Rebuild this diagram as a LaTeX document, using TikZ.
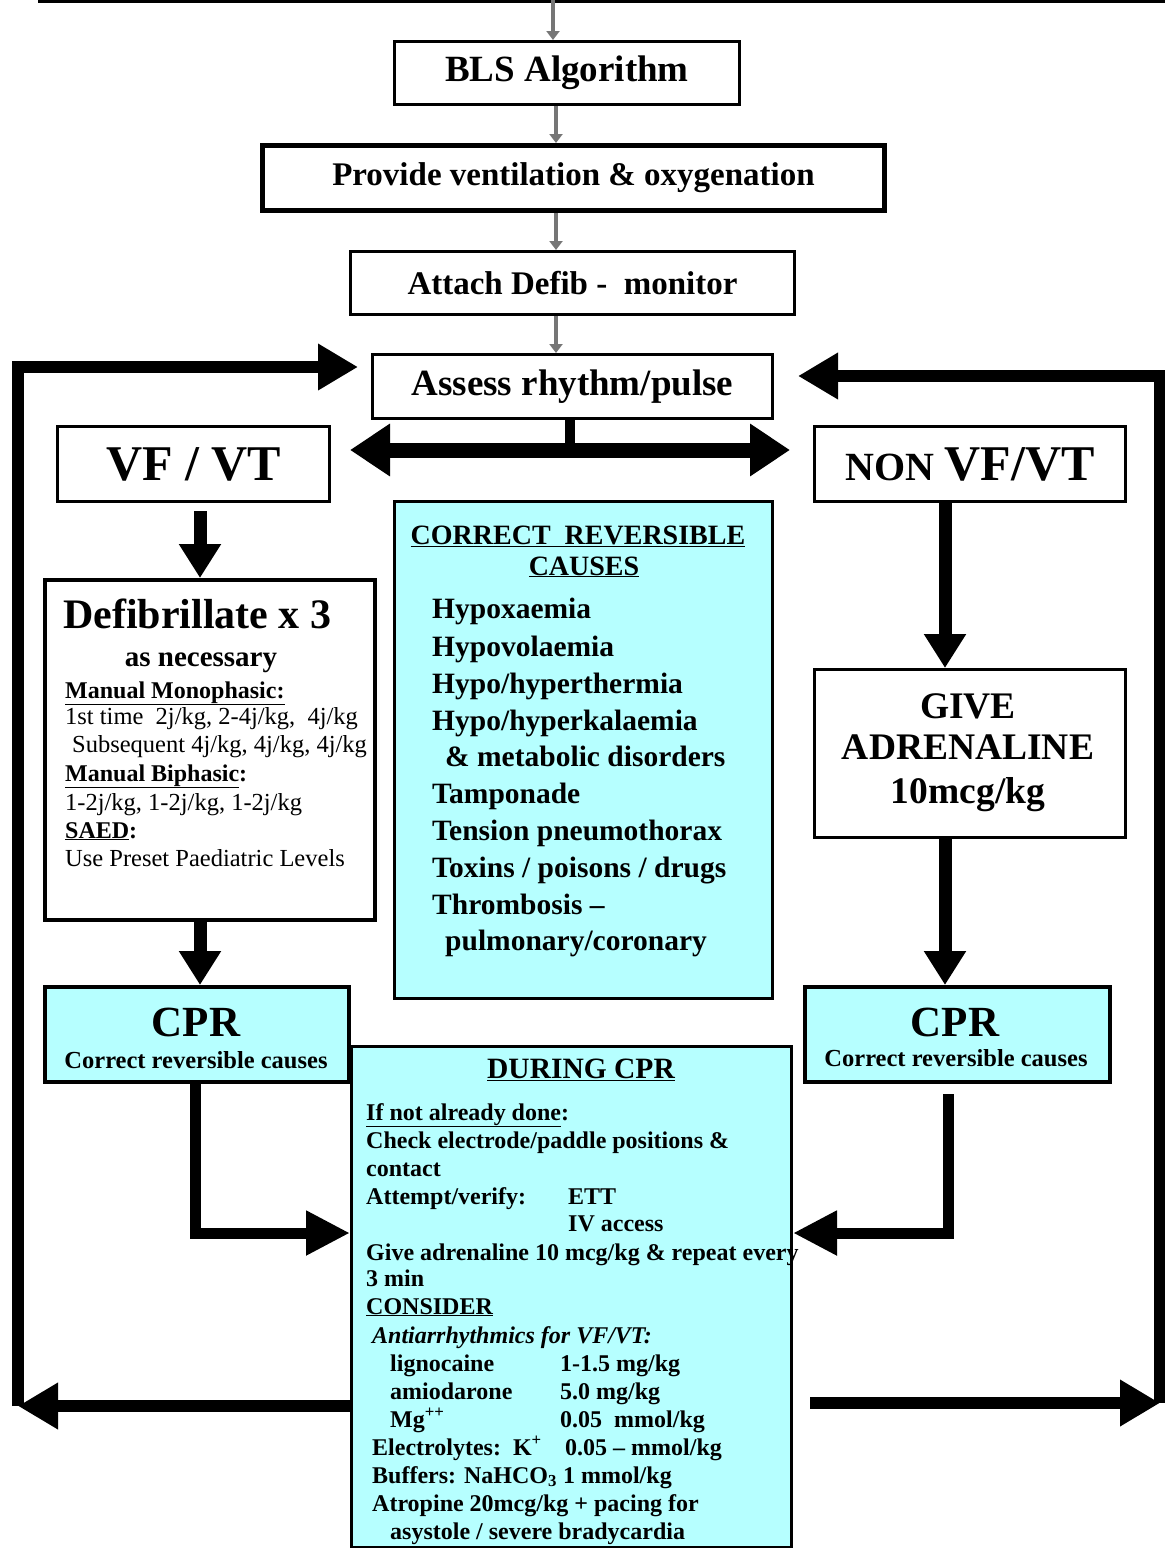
\documentclass[tikz,border=0pt]{standalone}
\usepackage{fontspec}
\setmainfont{Liberation Serif}
\usetikzlibrary{arrows.meta,calc}
\definecolor{cyanbox}{RGB}{182,255,255}
\definecolor{greyarrow}{RGB}{118,118,118}
\newcommand\myfs[2]{\fontsize{#1}{#2}\selectfont}
\begin{document}
\begin{tikzpicture}[x=1pt,y=-1pt,
  box/.style={draw, line width=3pt, inner sep=0pt, anchor=north west, fill=white, font=\bfseries, align=center},
  cbox/.style={box, fill=cyanbox},
  sz/.style 2 args={minimum width=#1pt, minimum height=#2pt},
  txt/.style={inner sep=0pt, anchor=base west, font=\bfseries\myfs{24}{28}},
  rtxt/.style={inner sep=0pt, anchor=base west, font=\myfs{24.5}{28}},
  ltxt/.style={inner sep=0pt, anchor=base west, font=\bfseries\myfs{29.5}{34}},
  ctxt/.style={inner sep=0pt, anchor=base},
  greyarr/.style={draw=greyarrow, line width=4pt, -{Triangle[length=9pt,width=13pt]}},
  bigarr/.style={line width=12pt, line join=miter, -{Triangle[length=40pt,width=44pt]}},
  vertarr/.style={line width=13pt, -{Triangle[length=34pt,width=40pt]}}
]
\useasboundingbox (0,0) rectangle (1165,1548);

% cut-off box edge at the top
\draw[line width=3pt] (38,1.5) -- (1165,1.5);

% main column
\node[box, sz={345}{63}, font=\bfseries\myfs{37}{44}] (bls) at (393,40) {BLS Algorithm};
\node[box, line width=5pt, sz={622}{65}, font=\bfseries\myfs{33}{40}] (prov) at (260,143) {Provide ventilation \& oxygenation};
\node[box, sz={444}{63}, font=\bfseries\myfs{33}{40}] (attach) at (349,250) {Attach Defib -\ \ monitor};
\node[box, sz={400}{64}, font=\bfseries\myfs{37}{44}] (assess) at (371,353) {Assess rhythm/pulse};

\node[box, sz={272}{75}, font=\bfseries\myfs{50}{58}] (vf) at (56,425) {VF / VT};
\node[box, sz={311}{75}] (nonvf) at (813,425) {\myfs{40}{48}NON \myfs{50}{58}VF/VT};

% defibrillate box
\node[box, line width=3.5pt, sz={330}{340}] (defib) at (43,578) {};
\node[txt, font=\bfseries\myfs{42}{48}] (d1) at (63,628) {Defibrillate x 3};
\node[ctxt, font=\bfseries\myfs{29}{34}] (d2) at (201,666) {as necessary};
\node[txt] (d3) at (65,698) {\underline{Manual Monophasic:}};
\node[rtxt] (d4) at (65,724) {1st time\ \ 2j/kg, 2-4j/kg,\ \ 4j/kg};
\node[rtxt] (d5) at (72,752) {Subsequent 4j/kg, 4j/kg, 4j/kg};
\node[txt] (d6) at (65,781) {\underline{Manual Biphasic}:};
\node[rtxt] (d7) at (65,810) {1-2j/kg, 1-2j/kg, 1-2j/kg};
\node[txt] (d8) at (65,838) {\underline{SAED}:};
\node[rtxt] (d9) at (65,866) {Use Preset Paediatric Levels};

% adrenaline box
\node[box, sz={311}{168}] (adren) at (813,668) {};
\node[ctxt, font=\bfseries\myfs{37.5}{43}] (a1) at (968,718) {GIVE};
\node[ctxt, font=\bfseries\myfs{37.5}{43}] (a2) at (968,759) {ADRENALINE};
\node[ctxt, font=\bfseries\myfs{37.5}{43}] (a3) at (968,803) {10mcg/kg};

% correct reversible causes
\node[cbox, sz={378}{497}] (causes) at (393,500) {};
\node[ctxt, font=\bfseries\myfs{28}{32}] (c0) at (578,544) {\underline{CORRECT\ \ REVERSIBLE}};
\node[ctxt, font=\bfseries\myfs{28}{32}] (c00) at (584,575) {\underline{CAUSES}};
\node[ltxt] (c1) at (432,618) {Hypoxaemia};
\node[ltxt] (c2) at (432,656) {Hypovolaemia};
\node[ltxt] (c3) at (432,693) {Hypo/hyperthermia};
\node[ltxt] (c4) at (432,730) {Hypo/hyperkalaemia};
\node[ltxt] (c5) at (445,766) {\& metabolic disorders};
\node[ltxt] (c6) at (432,803) {Tamponade};
\node[ltxt] (c7) at (432,840) {Tension pneumothorax};
\node[ltxt] (c8) at (432,877) {Toxins / poisons / drugs};
\node[ltxt] (c9) at (432,914) {Thrombosis –};
\node[ltxt] (c10) at (445,950) {pulmonary/coronary};

% CPR boxes
\node[cbox, line width=4pt, sz={304}{95}] (cprl) at (43,985) {};
\node[ctxt, font=\bfseries\myfs{43}{48}] (cl1) at (196,1036) {CPR};
\node[ctxt, font=\bfseries\myfs{24.5}{28}] (cl2) at (196,1068) {Correct reversible causes};
\node[cbox, line width=4pt, sz={305}{95}] (cprr) at (803,985) {};
\node[ctxt, font=\bfseries\myfs{43}{48}] (cr1) at (955,1036) {CPR};
\node[ctxt, font=\bfseries\myfs{24.5}{28}] (cr2) at (956,1066) {Correct reversible causes};

% during CPR
\node[cbox, sz={440}{501}] (during) at (350,1045) {};
\node[ctxt, font=\bfseries\myfs{29.5}{34}] (p0) at (581,1078) {\underline{DURING CPR}};
\node[txt] (p1) at (366,1120) {\underline{If not already done}:};
\node[txt] (p2) at (366,1148) {Check electrode/paddle positions \&};
\node[txt] (p3) at (366,1176) {contact};
\node[txt] (p4) at (366,1204) {Attempt/verify:};
\node[txt] (p4b) at (568,1204) {ETT};
\node[txt] (p5) at (568,1231) {IV access};
\node[txt] (p6) at (366,1260) {Give adrenaline 10 mcg/kg \& repeat every};
\node[txt] (p7) at (366,1286) {3 min};
\node[txt] (p8) at (366,1314) {\underline{CONSIDER}};
\node[txt, font=\bfseries\itshape\myfs{24}{28}] (p9) at (372,1343) {Antiarrhythmics for VF/VT:};
\node[txt] (p10) at (390,1371) {lignocaine};
\node[txt] (p10b) at (560,1371) {1-1.5 mg/kg};
\node[txt] (p11) at (390,1399) {amiodarone};
\node[txt] (p11b) at (560,1399) {5.0 mg/kg};
\node[txt] (p12) at (390,1427) {Mg\textsuperscript{++}};
\node[txt] (p12b) at (560,1427) {0.05\ \ mmol/kg};
\node[txt] (p13) at (372,1455) {Electrolytes:\ \ K\textsuperscript{+}};
\node[txt] (p13b) at (565,1455) {0.05 – mmol/kg};
\node[txt] (p14) at (372,1483) {Buffers: NaHCO\textsubscript{3} 1 mmol/kg};
\node[txt] (p15) at (372,1511) {Atropine 20mcg/kg + pacing for};
\node[txt] (p16) at (390,1539) {asystole / severe bradycardia};

% grey arrows in the top column
\coordinate (topin) at (553,0);
\coordinate (gx) at (556,0);
\draw[greyarr] (topin) -- (topin |- bls.north);
\draw[greyarr] (gx |- bls.south) -- (gx |- prov.north);
\draw[greyarr] (gx |- prov.south) -- (gx |- attach.north);
\draw[greyarr] (gx |- attach.south) -- (gx |- assess.north);

% split below assess
\coordinate (sx) at (570,450);
\coordinate (sl) at (350,450);
\coordinate (sr) at (790,450);
\draw[line width=10pt] (sx |- assess.south) -- (sx);
\draw[line width=15pt, {Triangle[length=40pt,width=50pt]}-{Triangle[length=40pt,width=50pt]}] (sl) -- (sr);

% left column arrows
\coordinate (lc) at (200,0);
\draw[vertarr] ($(lc |- vf.south)+(0,8)$) -- (lc |- defib.north);
\draw[vertarr] (lc |- defib.south) -- (lc |- cprl.north);
\coordinate (lc2) at (195,1233);
\draw[line width=11pt, line join=miter, -{Triangle[length=44pt,width=42pt]}] (lc2 |- cprl.south) -- (lc2) -- (lc2 -| during.west);

% right column arrows
\coordinate (rc) at (945,0);
\draw[vertarr] (rc |- nonvf.south) -- (rc |- adren.north);
\draw[vertarr] (rc |- adren.south) -- (rc |- cprr.north);
\coordinate (rc2) at (948,1233);
\draw[line width=11pt, line join=miter, -{Triangle[length=44pt,width=42pt]}] ($(rc2 |- cprr.south)+(0,10)$) -- (rc2) -- (rc2 -| during.east);

% return loops
\coordinate (bl) at (18,1406);
\coordinate (tl) at (18,367);
\draw[bigarr] (bl -| during.west) -- (bl);
\draw[bigarr] (bl) -- (tl) -- ($(tl -| assess.west)+(-13,0)$);
\coordinate (br) at (1160,1403);
\coordinate (tr) at (1160,376);
\draw[bigarr] ($(br -| during.east)+(17,0)$) -- (br);
\draw[bigarr] (br) -- (tr) -- ($(tr -| assess.east)+(24,0)$);
\end{tikzpicture}
\end{document}
